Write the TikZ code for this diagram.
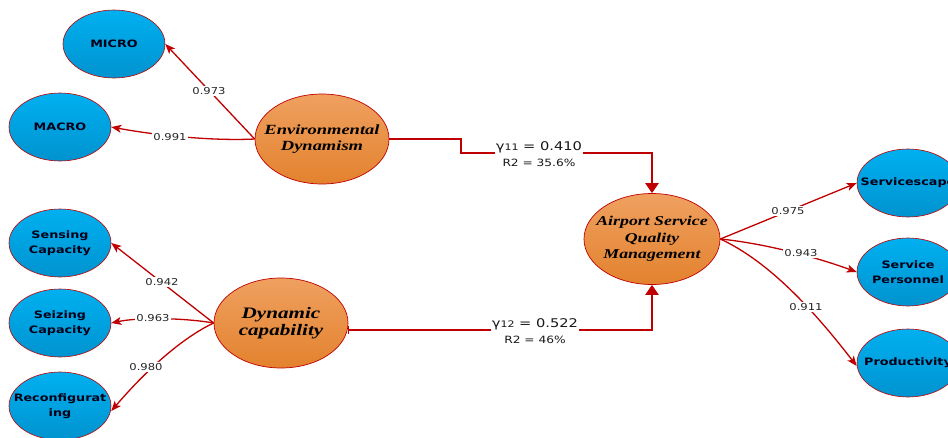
\documentclass[tikz,border=0pt]{standalone}
\usepackage{fontspec}
\usetikzlibrary{shapes.geometric,arrows.meta}
\newfontfamily\bluefont[FakeStretch=1.25]{DejaVu Sans}
\newfontfamily\labfont[FakeStretch=1.22]{DejaVu Sans}
\newfontfamily\orfont[FakeStretch=1.32]{Liberation Serif}
\definecolor{lred}{HTML}{C00000}
\definecolor{bluetop}{HTML}{00B0F0}
\definecolor{bluebot}{HTML}{0093CF}
\definecolor{ortop}{HTML}{EFA060}
\definecolor{orbot}{HTML}{E3822E}
\begin{document}
\begin{tikzpicture}[x=1pt,y=-1pt,
  indtext/.style={align=center, inner sep=0pt, text=black!90!blue, font=\bluefont\bfseries\fontsize{10.2}{14.5}\selectfont},
  ind/.style={ellipse, draw=lred, line width=0.6pt, top color=bluetop, bottom color=bluebot,
    minimum width=102pt, minimum height=68pt, inner sep=0pt, label={[indtext]center:{#1}}},
  lattext/.style={align=center, inner sep=0pt, text=black},
  lat/.style={ellipse, draw=lred, line width=0.7pt, top color=ortop, bottom color=orbot,
    minimum width=134pt, minimum height=90pt, inner sep=0pt},
  load/.style={draw=lred, line width=1.3pt, -{Stealth[length=10pt,width=8pt,inset=2.5pt]}},
  struct/.style={draw=lred, line width=2.4pt, -{Triangle[length=10pt,width=13pt]}},
  lbl/.style={fill=white, inner sep=1pt, text=black!85, font=\labfont\fontsize{9.5}{11}\selectfont},
  glbl/.style={fill=white, inner sep=1pt, text=black!90, font=\labfont\fontsize{12}{14}\selectfont},
  rlbl/.style={fill=white, inner sep=0.5pt, text=black!90, font=\labfont\fontsize{10}{12}\selectfont}
]
\useasboundingbox (0,0) rectangle (948,437);
\clip (0,0) rectangle (948,437);

% indicator nodes
\node[ind={MICRO}] (micro) at (114,44) {};
\node[ind={MACRO}] (macro) at (60,127) {};
\node[ind={Sensing\\Capacity}] (sens) at (60,243) {};
\node[ind={Seizing\\Capacity}] (seiz) at (60,323) {};
\node[ind={Reconfigurat\\ing}] (reco) at (60,406) {};
\node[ind={Servicescape}] (svcs) at (908,183) {};
\node[ind={Service\\Personnel}] (pers) at (908,272) {};
\node[ind={Productivity}] (prod) at (908,363) {};

% latent nodes
\node[lat, label={[lattext, font=\orfont\bfseries\itshape\fontsize{14}{15.5}\selectfont]center:{Environmental\\Dynamism}}] (env) at (322,139) {};
\node[lat, label={[lattext, font=\orfont\bfseries\itshape\fontsize{16}{17}\selectfont]center:{Dynamic\\capability}}] (dc) at (281,323) {};
\node[lat, minimum width=136pt, minimum height=91pt, label={[lattext, font=\orfont\bfseries\itshape\fontsize{13.5}{16.5}\selectfont]center:{Airport Service\\Quality\\Management}}] (asqm) at (652,239) {};

% loadings
\draw[load] (env.west) -- (micro.east);
\draw[load] (env.west) .. controls (215,141) and (160,136) .. (macro.east);
\draw[load] (dc.west) -- (sens.east);
\draw[load] (dc.west) .. controls (185,318) and (140,317) .. (seiz.east);
\draw[load] (dc.west) .. controls (190,334) and (155,360) .. ([yshift=-5pt]reco.east);
\draw[load] (asqm.east) -- (svcs.west);
\draw[load] (asqm.east) .. controls (760,243) and (810,255) .. (pers.west);
\draw[load] (asqm.east) .. controls (770,262) and (815,312) .. ([yshift=-3pt]prod.west);

% structural paths
\coordinate (b1) at (461,153);
\draw[struct] (env.east) -| (b1) -| (asqm.north);
\draw[struct, {Bar[width=8pt,line width=1pt]}-{Triangle[length=10pt,width=13pt]}] (dc.-6) -| (asqm.south);

% labels
\node[lbl] (l1) at (209,91) {0.973};
\node[lbl] (l2) at (170,137) {0.991};
\node[lbl] (l3) at (162,282) {0.942};
\node[lbl] (l4) at (153,318) {0.963};
\node[lbl] (l5) at (146,367) {0.980};
\node[lbl] (l6) at (788,211) {0.975};
\node[lbl] (l7) at (801,253) {0.943};
\node[lbl] (l8) at (806,307) {0.911};
\node[glbl] (g1) at (539,147) {γ{\fontsize{9}{10}\selectfont 11} = 0.410};
\node[rlbl] (r1) at (539,163) {R2 = 35.6\%};
\node[glbl] (g2) at (535,324) {γ{\fontsize{9}{10}\selectfont 12} = 0.522};
\node[rlbl] (r2) at (535,340) {R2 = 46\%};
\end{tikzpicture}
\end{document}
